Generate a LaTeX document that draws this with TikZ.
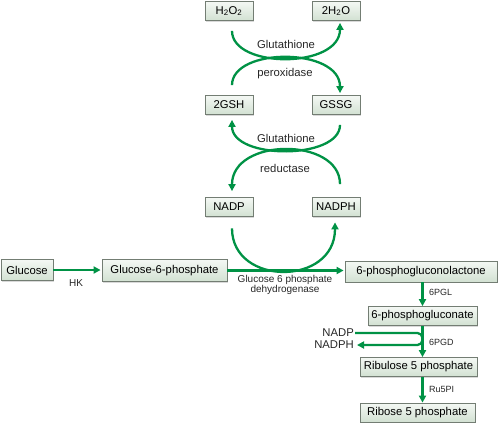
\documentclass[tikz,border=0pt]{standalone}
\usepackage{fontspec}
\setmainfont{Liberation Sans}
\usetikzlibrary{arrows.meta, shadows}
\definecolor{pathgreen}{RGB}{0,146,69}
\definecolor{boxtop}{RGB}{244,248,244}
\definecolor{boxbot}{RGB}{210,225,210}
\definecolor{boxline}{RGB}{115,125,115}

\begin{document}
\begin{tikzpicture}[x=1pt,y=-1pt]
					\tikzstyle{box} = [rectangle,draw=boxline,line width=0.8pt,top color=boxtop,bottom color=boxbot,minimum height=19pt,inner sep=0pt,font=\fontsize{11.3}{13}\selectfont,drop shadow={shadow xshift=1pt,shadow yshift=-1pt,opacity=0.3}]
					\tikzstyle{edge} = [draw=pathgreen,line width=2.3pt,-{Triangle[length=7pt,width=7pt]}]
					\tikzstyle{plain} = [draw=pathgreen,line width=2.3pt]
					\tikzstyle{enzyme} = [inner sep=1pt,font=\fontsize{11.3}{13}\selectfont,text=black!85]
					\tikzstyle{small} = [inner sep=1pt,font=\fontsize{9}{10}\selectfont,text=black!85]
					\useasboundingbox (0,0) rectangle (500,426);
					\node[box,minimum width=48pt] (h2o2) at (229,11) {H\textsubscript{2}O\textsubscript{2}};
					\node[box,minimum width=48pt] (h2o) at (336,11) {2H\textsubscript{2}O};
					\node[box,minimum width=48pt] (gsh) at (229,105) {2GSH};
					\node[box,minimum width=48pt] (gssg) at (336,105) {GSSG};
					\node[box,minimum width=48pt] (nadp) at (229,207) {NADP};
					\node[box,minimum width=48pt] (nadph) at (336,207) {NADPH};
					\node[box,minimum width=52pt,minimum height=21pt] (glc) at (27,270) {Glucose};
					\node[box,minimum width=125pt,minimum height=22pt] (g6p) at (164.5,270.5) {Glucose-6-phosphate};
					\node[box,minimum width=152pt,minimum height=21pt] (pgl) at (421,271.5) {6-phosphogluconolactone};
					\node[box,minimum width=109pt] (pgn) at (422.5,316) {6-phosphogluconate};
					\node[box,minimum width=117pt] (ru5p) at (418.5,367) {Ribulose 5 phosphate};
					\node[box,minimum width=115pt] (r5p) at (417.5,412.5) {Ribose 5 phosphate};
					\node[enzyme] (gpx1) at (286,44) {Glutathione};
					\node[enzyme] (gpx2) at (285,74) {peroxidase};
					\node[enzyme] (gr1) at (286,138) {Glutathione};
					\node[enzyme] (gr2) at (285,168) {reductase};
					\node[enzyme,font=\fontsize{10}{10.5}\selectfont] (hk) at (76,283) {HK};
					\node[enzyme,font=\fontsize{10}{10.5}\selectfont,align=center] (g6pd) at (285,285) {Glucose 6 phosphate\\dehydrogenase};
					\node[enzyme,anchor=east] (nadpin) at (355,333) {NADP};
					\node[enzyme,anchor=east] (nadphout) at (355,345) {NADPH};
					\node[small,anchor=west] (pglase) at (428,292.5) {6PGL};
					\node[small,anchor=west] (pgd) at (428,342.5) {6PGD};
					\node[small,anchor=west] (rpi) at (428,389) {Ru5PI};
					\draw[edge] ([xshift=3pt,yshift=-10pt]h2o2.south) .. controls +(0,38) and +(0,46) .. ([xshift=4pt,yshift=-2pt]h2o.south);
					\draw[edge] ([xshift=3pt,yshift=10pt]gsh.north) .. controls +(0,-38) and +(0,-46) .. ([xshift=4pt,yshift=2pt]gssg.north);
					\draw[edge] ([xshift=4pt,yshift=-10pt]gssg.south) .. controls +(0,35) and +(0,40) .. ([xshift=3pt,yshift=-5pt]gsh.south);
					\draw[edge] ([xshift=4pt,yshift=13pt]nadph.north) .. controls +(0,-47) and +(0,-54) .. ([xshift=3pt,yshift=6pt]nadp.north);
					\draw[edge] ([xshift=3pt,yshift=-11.5pt]nadp.south) .. controls +(0,58) and +(0,64) .. ([xshift=-1pt,yshift=-5.5pt]nadph.south);
					\draw[edge,shorten >=1pt] (glc.east) -- (glc.east -| g6p.west);
					\draw[edge,shorten >=1pt] (g6p.east) -- (g6p.east -| pgl.west);
					\draw[edge] (pgl.south -| pgn.south) -- (pgn.north);
					\draw[edge] (pgn.south) -- (pgn.south |- ru5p.north);
					\draw[edge] (ru5p.south -| pgn.south) -- (r5p.north -| pgn.south);
					\draw[plain,rounded corners=5pt] (nadpin.east) -- (nadpin.east -| pgn.south) -- (nadphout.east -| pgn.south);
					\draw[edge,rounded corners=5pt,shorten >=2pt] (nadpin.east -| pgn.south) -- (nadphout.east -| pgn.south) -- (nadphout.east);
					\end{tikzpicture}
\end{document}
